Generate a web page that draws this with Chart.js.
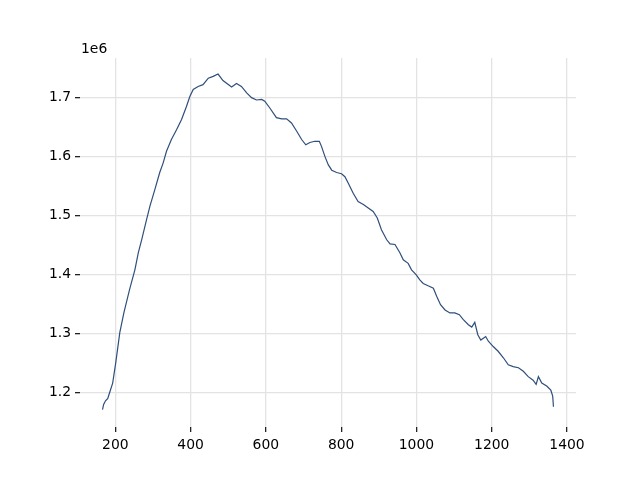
<!DOCTYPE html>
<html>
<head>
<meta charset="utf-8">
<script src="https://cdn.jsdelivr.net/npm/chart.js@4/dist/chart.umd.min.js"></script>
<style>
  html, body { margin: 0; padding: 0; background: #fff; }
  #wrap { width: 640px; height: 480px; }
</style>
</head>
<body>
<div id="wrap"><canvas id="chart" width="640" height="480"></canvas></div>
<script>
// values (y in units of 1e6)
const xValues = [
  166, 169, 174, 180, 185, 193, 201, 212, 223, 238, 252, 261, 270, 283, 292,
  305, 318, 327, 336, 349, 363, 376, 389, 398, 407, 420, 433, 447, 460, 473,
  486, 509, 522, 535, 549, 562, 575, 589, 597, 611, 628, 642, 655, 668, 682,
  695, 706, 717, 730, 742, 748, 757, 766, 775, 788, 801, 810, 819, 832, 845,
  859, 872, 885, 896, 907, 921, 930, 943, 956, 965, 978, 987, 999, 1009, 1018,
  1031, 1045, 1054, 1064, 1076, 1089, 1102, 1114, 1124, 1138, 1147, 1155, 1163, 1171, 1184,
  1191, 1204, 1217, 1231, 1244, 1257, 1271, 1284, 1297, 1310, 1318, 1324, 1333, 1346, 1357,
  1362, 1364
];
const yValues = [
  1.171, 1.180, 1.186, 1.190, 1.200, 1.216, 1.250, 1.302, 1.336, 1.375, 1.408, 1.437, 1.459, 1.493, 1.516,
  1.544, 1.573, 1.589, 1.609, 1.629, 1.646, 1.663, 1.685, 1.702, 1.714, 1.719, 1.722, 1.733, 1.736, 1.740,
  1.729, 1.718, 1.724, 1.719, 1.708, 1.700, 1.696, 1.697, 1.694, 1.682, 1.666, 1.664, 1.664, 1.657, 1.643,
  1.629, 1.620, 1.624, 1.626, 1.626, 1.617, 1.600, 1.586, 1.577, 1.573, 1.571, 1.566, 1.555, 1.538, 1.524,
  1.519, 1.513, 1.507, 1.496, 1.476, 1.459, 1.452, 1.451, 1.437, 1.425, 1.419, 1.408, 1.400, 1.391, 1.385,
  1.381, 1.377, 1.363, 1.349, 1.340, 1.335, 1.335, 1.332, 1.324, 1.315, 1.311, 1.319, 1.298, 1.289, 1.295,
  1.287, 1.278, 1.270, 1.259, 1.247, 1.244, 1.242, 1.236, 1.227, 1.221, 1.214, 1.227, 1.216, 1.211, 1.204,
  1.194, 1.176
];
const xTicks = [200, 400, 600, 800, 1000, 1200, 1400];
const yTicks = [1.2, 1.3, 1.4, 1.5, 1.6, 1.7];
const yScale = 1e6;
const offsetText = '1e6';

const FONT = { family: '"DejaVu Sans", sans-serif', size: 13.9 };

const points = xValues.map((x, i) => ({ x: x, y: yValues[i] * yScale }));

// matplotlib-style offset label above the y axis
const offsetLabel = {
  id: 'offsetLabel',
  afterDraw(chart) {
    const { ctx, chartArea } = chart;
    ctx.save();
    ctx.font = FONT.size + 'px ' + FONT.family;
    ctx.fillStyle = '#000';
    ctx.textAlign = 'left';
    ctx.textBaseline = 'alphabetic';
    ctx.fillText(offsetText, chartArea.left + 1, chartArea.top - 5);
    ctx.restore();
  }
};

new Chart(document.getElementById('chart'), {
  type: 'scatter',
  data: {
    datasets: [{
      data: points,
      showLine: true,
      borderColor: '#2f4f7a',
      borderWidth: 1.2,
      pointRadius: 0,
      tension: 0
    }]
  },
  options: {
    responsive: false,
    animation: false,
    layout: { padding: { left: 0, right: 64, top: 58, bottom: 0 } },
    plugins: { legend: { display: false }, tooltip: { enabled: false } },
    scales: {
      x: {
        type: 'linear',
        min: 106.2,
        max: 1423.9,
        afterBuildTicks: (s) => { s.ticks = xTicks.map(v => ({ value: v })); },
        afterFit: (s) => { s.height = 53; },
        border: { display: false },
        grid: { color: '#e3e3e3', lineWidth: 1.3, tickColor: '#222', tickLength: 5 },
        ticks: { color: '#000', font: FONT, padding: 5, maxRotation: 0, callback: (v) => String(v) }
      },
      y: {
        type: 'linear',
        min: 1.1416 * yScale,
        max: 1.7672 * yScale,
        afterBuildTicks: (s) => { s.ticks = yTicks.map(v => ({ value: v * yScale })); },
        afterFit: (s) => { s.width = 80; },
        border: { display: false },
        grid: { color: '#e3e3e3', lineWidth: 1.3, tickColor: '#222', tickLength: 5 },
        ticks: {
          color: '#000',
          font: FONT,
          padding: 4,
          callback: (v) => (v / yScale).toFixed(1)
        }
      }
    }
  },
  plugins: [offsetLabel]
});
</script>
</body>
</html>
